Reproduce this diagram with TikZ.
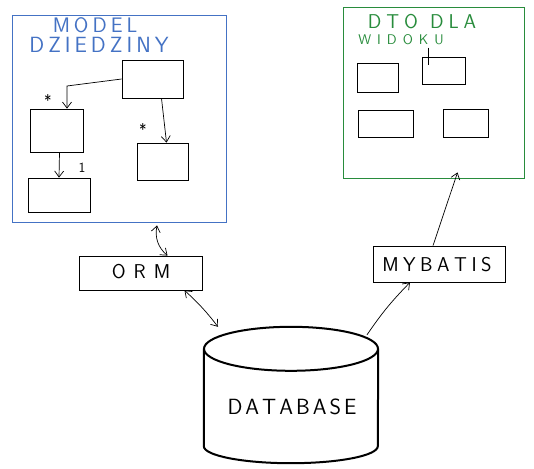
\documentclass[tikz,border=0pt]{standalone}
\usepackage{fontspec}
\usetikzlibrary{arrows.meta,calc}
\definecolor{penblue}{RGB}{68,114,196}
\definecolor{pengreen}{RGB}{40,140,60}
\newcommand{\hand}[1]{\sffamily\fontsize{#1}{#1}\selectfont}
\def\spreadk#1#2{\def\sepk{\kern#1}\spreadfirst#2\relax}
\def\spreadfirst#1{#1\spreadi}
\def\spreadi#1{\ifx#1\relax\else\sepk#1\expandafter\spreadi\fi}
\tikzset{
  box/.style={draw, line width=0.8pt, inner sep=0pt},
  frame/.style={draw, line width=0.9pt, inner sep=0pt},
  tip/.style={-{Straight Barb[length=6pt,width=9pt]}, line width=0.7pt},
  dtip/.style={{Straight Barb[length=6pt,width=9pt]}-{Straight Barb[length=6pt,width=9pt]}, line width=0.7pt},
  dbline/.style={line width=2pt},
  lbl/.style={inner sep=0pt}
}
\begin{document}
\begin{tikzpicture}[x=1pt,y=-1pt]
\useasboundingbox (0,0) rectangle (534,468);
% frames
\node[frame, draw=penblue, minimum width=214, minimum height=207] (blue) at (119,118.5) {};
\node[frame, draw=pengreen, minimum width=181, minimum height=171] (green) at (433.5,92.5) {};
% titles
\node[lbl, text=penblue, font=\hand{21}] (t1) at (95,25) {\spreadk{4pt}{MODEL}};
\node[lbl, text=penblue, font=\hand{22}] (t2) at (99,45) {\spreadk{4pt}{DZIEDZINY}};
\node[lbl, text=pengreen, font=\hand{20}] (t3) at (422,22) {\spreadk{5pt}{DTO}\hspace{12pt}\spreadk{5pt}{DLA}};
\node[lbl, text=pengreen, font=\hand{14}] (t4) at (401,40) {\spreadk{6pt}{WIDOKU}};
% domain boxes
\node[box, minimum width=61, minimum height=38] (tr) at (152.5,79) {};
\node[box, minimum width=53, minimum height=43] (lm) at (56.5,130.5) {};
\node[box, minimum width=62, minimum height=34] (bl) at (59,195) {};
\node[box, minimum width=51, minimum height=37] (rl) at (162.5,161.5) {};
\coordinate (k1) at (67,86);
\draw[tip] (tr.west) -- (k1) -- (k1 |- lm.north);
\draw[tip] ([xshift=9]tr.south) -- ([xshift=4]rl.north);
\draw[tip] ([xshift=3]lm.south) -- (bl.north);
\node[lbl, font=\sffamily\fontsize{16}{16}\selectfont] (s1) at (48,101) {*};
\node[lbl, font=\sffamily\fontsize{16}{16}\selectfont] (s2) at (143,130) {*};
\node[lbl, font=\sffamily\fontsize{14}{14}\selectfont] (s3) at (82,168) {1};
% dto boxes
\node[box, minimum width=41, minimum height=29] (g1) at (377.5,77.5) {};
\node[box, minimum width=43, minimum height=27] (g2) at (443.5,70.5) {};
\node[box, minimum width=55, minimum height=27] (g3) at (385.5,123.5) {};
\node[box, minimum width=45, minimum height=28] (g4) at (465.5,123) {};
\draw[line width=0.8pt] ([xshift=7,yshift=9]g2.north west) -- ([xshift=7,yshift=-8]g2.north west);
% middle boxes
\node[box, minimum width=123, minimum height=34] (orm) at (140.5,273) {};
\node[lbl, font=\hand{20}] (ormt) at (141,272) {\spreadk{8pt}{ORM}};
\node[box, minimum width=132, minimum height=36] (myb) at (439,264) {};
\node[lbl, font=\hand{20}] (mybt) at (437,265) {\spreadk{4.5pt}{MYBATIS}};
% database
\node[inner sep=0pt, minimum width=174, minimum height=136] (db) at (291,395) {};
\draw[dbline] ([yshift=-22]db.north) ellipse [x radius=87pt, y radius=22pt];
\draw[dbline] ([yshift=-22]db.north west) -- ([yshift=17]db.south west)
  arc [start angle=180, end angle=360, x radius=87pt, y radius=17pt]
  -- ([yshift=-22]db.north east);
\node[lbl, font=\hand{22}] (dbt) at (292,407) {\spreadk{3pt}{DATABASE}};
% connectors
\draw[dtip] ([xshift=38,yshift=-3]blue.south) to[bend right=30] ([xshift=27]orm.north);
\draw[dtip] ([xshift=44]orm.south) to[bend left=5] ([xshift=-73]db.north);
\draw[tip] ([xshift=76,yshift=-8]db.north) to[bend left=5] ([xshift=-29]myb.south);
\draw[tip] ([xshift=-6]myb.north) -- ([xshift=24,yshift=6]green.south);
\end{tikzpicture}
\end{document}
